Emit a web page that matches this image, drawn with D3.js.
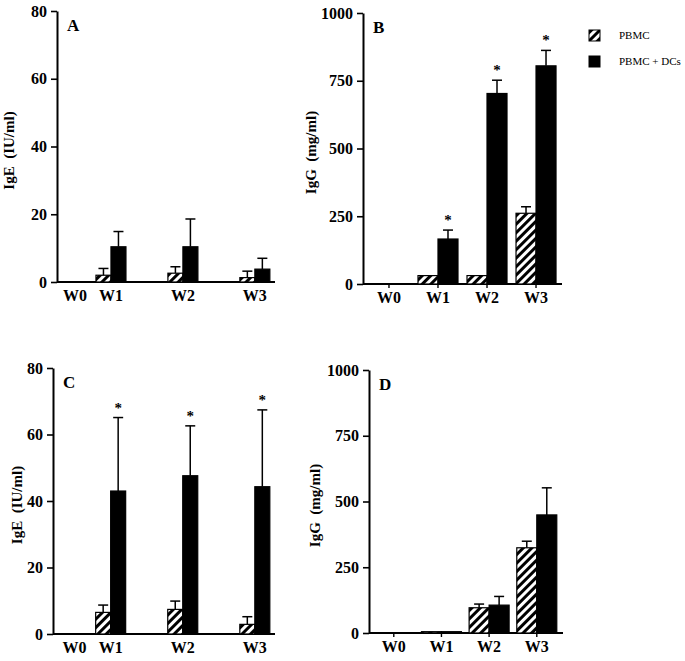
<!DOCTYPE html>
<html>
<head>
<meta charset="utf-8">
<script src="https://cdn.jsdelivr.net/npm/d3@7"></script>
<style>
  html, body { margin: 0; padding: 0; background: #fff; }
  svg { display: block; }
  text { font-family: "Liberation Serif", "Times New Roman", serif; fill: #000; }
</style>
</head>
<body>
<svg id="chart" width="685" height="661"></svg>
<script>
// ---------------- DATA ----------------
const weeks = ["W0", "W1", "W2", "W3"];
const series = ["PBMC", "PBMC + DCs"];

// Panel A: IgE (IU/ml)
const pbmcA = [0, 2.0, 2.6, 1.3];
const pbmcAErr = [0, 2.0, 1.9, 1.9];
const dcA = [0, 10.4, 10.4, 3.8];
const dcAErr = [0, 4.5, 8.2, 3.2];
const starA = [false, false, false, false];

// Panel B: IgG (mg/ml)
const pbmcB = [0, 31, 31, 261];
const pbmcBErr = [0, 0, 0, 24];
const dcB = [0, 166, 703, 805];
const dcBErr = [0, 33, 49, 57];
const starB = [false, true, true, true];

// Panel C: IgE (IU/ml)
const pbmcC = [0, 6.5, 7.4, 2.9];
const pbmcCErr = [0, 2.2, 2.5, 2.3];
const dcC = [0, 43.0, 47.6, 44.3];
const dcCErr = [0, 22.1, 15.0, 23.1];
const starC = [false, true, true, true];

// Panel D: IgG (mg/ml)
const pbmcD = [0, 5, 96, 324];
const pbmcDErr = [0, 0, 14, 25];
const dcD = [0, 5, 106, 449];
const dcDErr = [0, 0, 33, 103];
const starD = [false, false, false, false];

// category slot positions along the x axis (W0 sits at half spacing in A/C)
const slotsAC = [0.5, 1, 2, 3];
const slotsBD = [0, 1, 2, 3];

const ticksIgE = [0, 20, 40, 60, 80];
const ticksIgG = [0, 250, 500, 750, 1000];
const titleIgE = "IgE  (IU/ml)";
const titleIgG = "IgG  (mg/ml)";

// ---------------- LAYOUT ----------------
const svg = d3.select("#chart");

const defs = svg.append("defs");
const pat = defs.append("pattern")
  .attr("id", "hatch")
  .attr("patternUnits", "userSpaceOnUse")
  .attr("width", 6).attr("height", 6)
  .attr("patternTransform", "rotate(45)");
pat.append("rect").attr("width", 6).attr("height", 6).attr("fill", "#fff");
pat.append("rect").attr("x", 0).attr("y", 0).attr("width", 3).attr("height", 6).attr("fill", "#000");

const panels = [
  { letter: "A", pbmc: pbmcA, pErr: pbmcAErr, dc: dcA, dErr: dcAErr, star: starA,
    slots: slotsAC, xDom: [0.25, 3.28], xRange: [57, 275], yMax: 80, yRange: [282, 11],
    ticks: ticksIgE, title: titleIgE, titleX: 14, barW: 15, xTicks: false },
  { letter: "B", pbmc: pbmcB, pErr: pbmcBErr, dc: dcB, dErr: dcBErr, star: starB,
    slots: slotsBD, xDom: [-0.53, 3.53], xRange: [363, 562], yMax: 1000, yRange: [284, 13],
    ticks: ticksIgG, title: titleIgG, titleX: 316, barW: 20, xTicks: true },
  { letter: "C", pbmc: pbmcC, pErr: pbmcCErr, dc: dcC, dErr: dcCErr, star: starC,
    slots: slotsAC, xDom: [0.2, 3.28], xRange: [53, 275], yMax: 80, yRange: [634, 368],
    ticks: ticksIgE, title: titleIgE, titleX: 22, barW: 15, xTicks: false },
  { letter: "D", pbmc: pbmcD, pErr: pbmcDErr, dc: dcD, dErr: dcDErr, star: starD,
    slots: slotsBD, xDom: [-0.52, 3.55], xRange: [369, 563], yMax: 1000, yRange: [633, 370],
    ticks: ticksIgG, title: titleIgG, titleX: 320, barW: 20, xTicks: true }
];

panels.forEach(p => {
  const g = svg.append("g");
  const x = d3.scaleLinear().domain(p.xDom).range(p.xRange);
  const y = d3.scaleLinear().domain([0, p.yMax]).range(p.yRange);
  const y0 = y(0);

  // y axis
  const yAxis = d3.axisLeft(y).tickValues(p.ticks).tickFormat(d3.format("d"))
    .tickSize(6).tickSizeOuter(0).tickPadding(4);
  const ya = g.append("g").attr("transform", `translate(${p.xRange[0]},0)`).call(yAxis);
  ya.select(".domain").attr("stroke", "#000").attr("stroke-width", 2);
  ya.selectAll(".tick line").attr("stroke", "#000").attr("stroke-width", 1.6);
  ya.selectAll(".tick text")
    .style("font-family", '"Liberation Serif", "Times New Roman", serif')
    .style("font-weight", "bold").style("font-size", "16px").attr("fill", "#000");

  // x axis line
  g.append("line")
    .attr("x1", p.xRange[0]).attr("x2", p.xRange[1])
    .attr("y1", y0).attr("y2", y0)
    .attr("stroke", "#000").attr("stroke-width", 2);

  if (p.xTicks) {
    g.selectAll(".xt").data(p.slots).enter().append("line")
      .attr("x1", d => x(d)).attr("x2", d => x(d))
      .attr("y1", y0).attr("y2", y0 + 4)
      .attr("stroke", "#000").attr("stroke-width", 1.4);
  }

  // x labels
  g.selectAll(".xl").data(weeks).enter().append("text")
    .attr("x", (d, i) => x(p.slots[i]))
    .attr("y", y0 + 19)
    .attr("text-anchor", "middle")
    .style("font-weight", "bold").style("font-size", "16px")
    .text(d => d);

  // y title
  const ymid = (p.yRange[0] + p.yRange[1]) / 2 + 4;
  g.append("text")
    .attr("transform", `translate(${p.titleX},${ymid}) rotate(-90)`)
    .attr("text-anchor", "middle")
    .style("font-weight", "bold").style("font-size", "15px")
    .style("white-space", "pre")
    .text(p.title);

  // panel letter
  g.append("text")
    .attr("x", p.xRange[0] + 10).attr("y", p.yRange[1] + 20)
    .style("font-weight", "bold").style("font-size", "17px")
    .text(p.letter);

  // bars
  const bw = p.barW;
  const drawSeries = (vals, errs, fill, offset) => {
    weeks.forEach((w, i) => {
      const v = vals[i];
      if (v <= 0) return;
      const cx = x(p.slots[i]) + offset;
      g.append("rect")
        .attr("x", cx - bw / 2).attr("y", y(v))
        .attr("width", bw).attr("height", y0 - y(v))
        .attr("fill", fill).attr("stroke", "#000").attr("stroke-width", 1.2);
      const e = errs[i];
      if (e > 0) {
        g.append("line")
          .attr("x1", cx).attr("x2", cx)
          .attr("y1", y(v)).attr("y2", y(v + e))
          .attr("stroke", "#000").attr("stroke-width", 1.5);
        g.append("line")
          .attr("x1", cx - 5).attr("x2", cx + 5)
          .attr("y1", y(v + e)).attr("y2", y(v + e))
          .attr("stroke", "#000").attr("stroke-width", 1.5);
      }
    });
  };
  drawSeries(p.pbmc, p.pErr, "url(#hatch)", -bw / 2);
  drawSeries(p.dc, p.dErr, "#000", bw / 2);

  // stars
  weeks.forEach((w, i) => {
    if (!p.star[i]) return;
    const cx = x(p.slots[i]) + bw / 2;
    g.append("text")
      .attr("x", cx).attr("y", y(p.dc[i] + p.dErr[i]) - 5)
      .attr("text-anchor", "middle")
      .style("font-weight", "bold").style("font-size", "15px")
      .text("*");
  });
});

// legend
const legend = svg.append("g");
const legendFills = ["url(#hatch)", "#000"];
const legendY = [30, 56];
series.forEach((s, i) => {
  legend.append("rect")
    .attr("x", 589).attr("y", legendY[i])
    .attr("width", 11).attr("height", 11)
    .attr("fill", legendFills[i]).attr("stroke", "#000").attr("stroke-width", 1);
  legend.append("text")
    .attr("x", 619).attr("y", legendY[i] + 9)
    .style("font-size", "11px")
    .text(s);
});
</script>
</body>
</html>
